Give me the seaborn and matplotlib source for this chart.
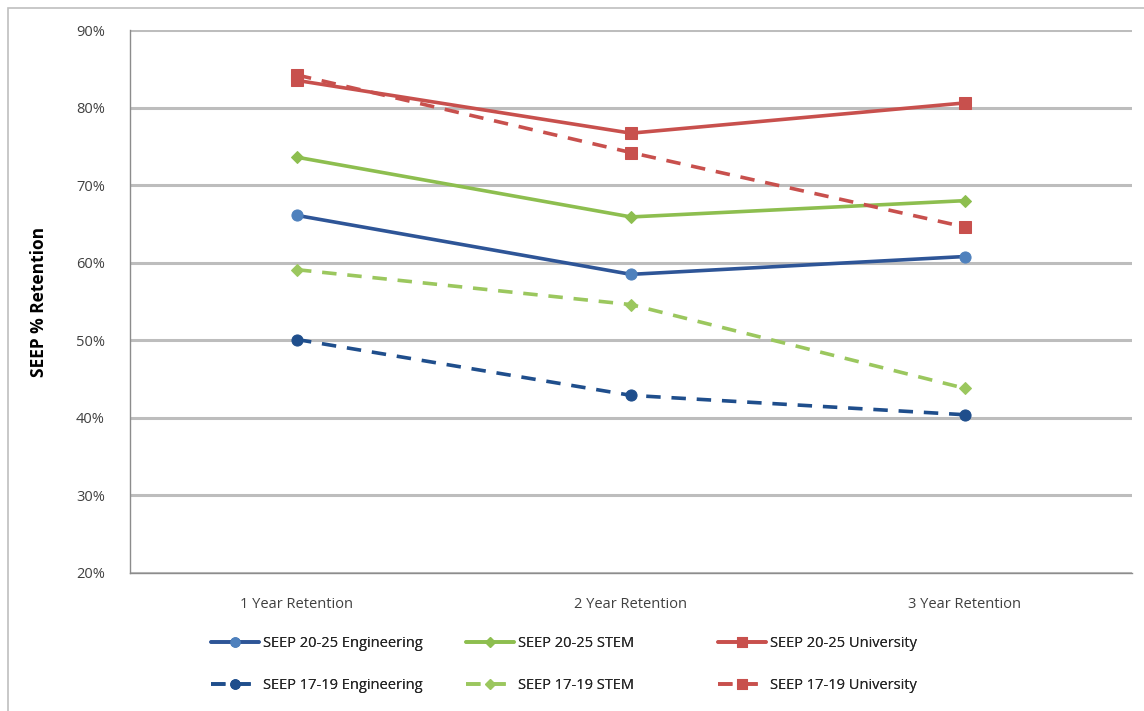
import matplotlib
matplotlib.use("Agg")
import matplotlib.pyplot as plt
import seaborn as sns
import pandas as pd
from matplotlib.patches import Rectangle

categories = ["1 Year Retention", "2 Year Retention", "3 Year Retention"]

eng_20_25 = [66.1, 58.5, 60.8]
stem_20_25 = [73.6, 65.9, 68.0]
univ_20_25 = [83.5, 76.7, 80.6]
eng_17_19 = [50.1, 42.9, 40.4]
stem_17_19 = [59.1, 54.6, 43.8]
univ_17_19 = [84.2, 74.2, 64.6]

yticks = [20, 30, 40, 50, 60, 70, 80, 90]
ytick_labels = ["20%", "30%", "40%", "50%", "60%", "70%", "80%", "90%"]

series = [
    ("SEEP 20-25 Engineering", eng_20_25, "#2E5597", "#4F81BD", "o", "-", 8),
    ("SEEP 17-19 Engineering", eng_17_19, "#1F4E8C", "#1F4E8C", "o", "--", 8),
    ("SEEP 20-25 STEM", stem_20_25, "#8DBE4F", "#8DBE4F", "D", "-", 6),
    ("SEEP 17-19 STEM", stem_17_19, "#9BC75E", "#9BC75E", "D", "--", 6),
    ("SEEP 20-25 University", univ_20_25, "#C8504D", "#C8504D", "s", "-", 8.5),
    ("SEEP 17-19 University", univ_17_19, "#C8504D", "#C8504D", "s", "--", 8.5),
]

sns.set_theme(style="white")
plt.rcParams["font.family"] = ["Open Sans", "DejaVu Sans"]

W, H = 1144, 711
fig = plt.figure(figsize=(W / 100, H / 100), dpi=100)
ax = fig.add_axes([130 / W, 1 - 573 / H, (1132 - 130) / W, (573 - 30) / H])

# Outer chart frame (runs off the right and bottom edges)
fig.patches.append(Rectangle((8 / W, -0.05), 1.1, 1 - 8 / H + 0.05,
                             transform=fig.transFigure, fill=False,
                             edgecolor="#BFBFBF", linewidth=1.2))

for name, vals, lc, mc, mk, ls, ms in series:
    df = pd.DataFrame({"x": range(len(categories)), "y": vals})
    sns.lineplot(data=df, x="x", y="y", ax=ax, color=lc, linestyle=ls,
                 linewidth=2.6, marker=mk, markersize=ms,
                 markerfacecolor=mc, markeredgecolor=mc, label=name)
    if ls == "--":
        ax.lines[-1].set_dashes((4, 3))

ax.set_xlim(-0.5, 2.5)
ax.set_ylim(20, 90)
ax.set_yticks(yticks)
ax.set_yticklabels(ytick_labels)
ax.set_xticks(range(len(categories)))
ax.set_xticklabels(categories)
ax.tick_params(axis="both", labelsize=10.5, colors="#404040", length=0)
ax.tick_params(axis="x", pad=17)
ax.tick_params(axis="y", pad=18)
ax.set_xlabel("")
ax.set_ylabel("SEEP % Retention", fontsize=12.5, fontweight="bold", color="black", labelpad=20)

ax.yaxis.grid(True, color="#BDBDBD", linewidth=2.2)
ax.set_axisbelow(True)
for s in ["top", "right"]:
    ax.spines[s].set_visible(False)
for s in ["left", "bottom"]:
    ax.spines[s].set_color("#8C8C8C")
    ax.spines[s].set_linewidth(1.0)

handles, labels = ax.get_legend_handles_labels()
ax.get_legend().remove()

# Legend laid out as three fixed columns of two entries each
col_x = [205, 460, 712]
for i, x0 in enumerate(col_x):
    leg = fig.legend(handles[2 * i:2 * i + 2], labels[2 * i:2 * i + 2],
                     loc="lower left", bbox_to_anchor=(x0 / W, 12 / H),
                     frameon=False, fontsize=10.5, handlelength=3.3,
                     labelspacing=1.85, handletextpad=0.3, borderaxespad=0,
                     labelcolor="#262626", markerscale=0.85)
    fig.add_artist(leg)

fig.savefig("out.png", dpi=100)
